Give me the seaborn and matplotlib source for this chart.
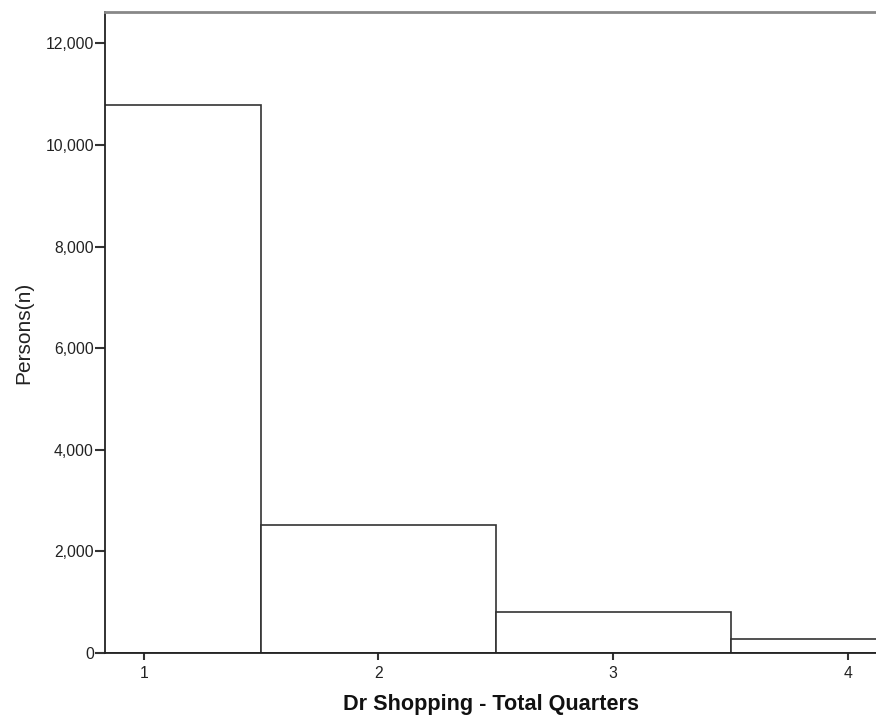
import matplotlib
matplotlib.use("Agg")
import matplotlib.pyplot as plt
import matplotlib.ticker as mticker
import seaborn as sns
import pandas as pd

# Number of persons by total quarters flagged for doctor shopping
quarters = [1, 2, 3, 4]
persons = [10780, 2520, 810, 285]

y_ticks = [0, 2000, 4000, 6000, 8000, 10000, 12000]

sns.set_theme(style="white")
plt.rcParams["font.family"] = ["Liberation Sans", "DejaVu Sans"]

df = pd.DataFrame({"quarters": quarters, "persons": persons})

fig = plt.figure(figsize=(8.76, 7.15), dpi=100)
ax = fig.add_axes([105 / 876, 1 - 653 / 715, 1 - 105 / 876 + 0.002, (653 - 12) / 715])

sns.histplot(data=df, x="quarters", weights="persons", discrete=True,
             color="white", edgecolor="#333333", linewidth=1.2, alpha=1,
             ax=ax)

ax.set_xlim(0.835, 4.127)
ax.set_ylim(0, 12620)
ax.set_xticks(quarters)
ax.set_yticks(y_ticks)
ax.yaxis.set_major_formatter(mticker.FuncFormatter(lambda v, p: f"{int(v):,}"))

for side in ["left", "bottom"]:
    ax.spines[side].set_color("#222222")
    ax.spines[side].set_linewidth(1.3)
ax.spines["top"].set_color("#888888")
ax.spines["top"].set_linewidth(2)
ax.spines["right"].set_visible(False)

ax.tick_params(axis="both", which="major", direction="out", width=1.5,
               color="#333333", labelcolor="#222222", bottom=True, left=True)
ax.tick_params(axis="y", labelsize=11.3, length=7, pad=1)
ax.tick_params(axis="x", labelsize=11.3, length=5, pad=4)

ax.set_xlabel("Dr Shopping - Total Quarters", fontsize=15.6, fontweight="bold",
              color="#111111", labelpad=9.5)
ax.set_ylabel("Persons(n)", fontsize=15, color="#222222", labelpad=9)

fig.savefig("out.png", dpi=100)
